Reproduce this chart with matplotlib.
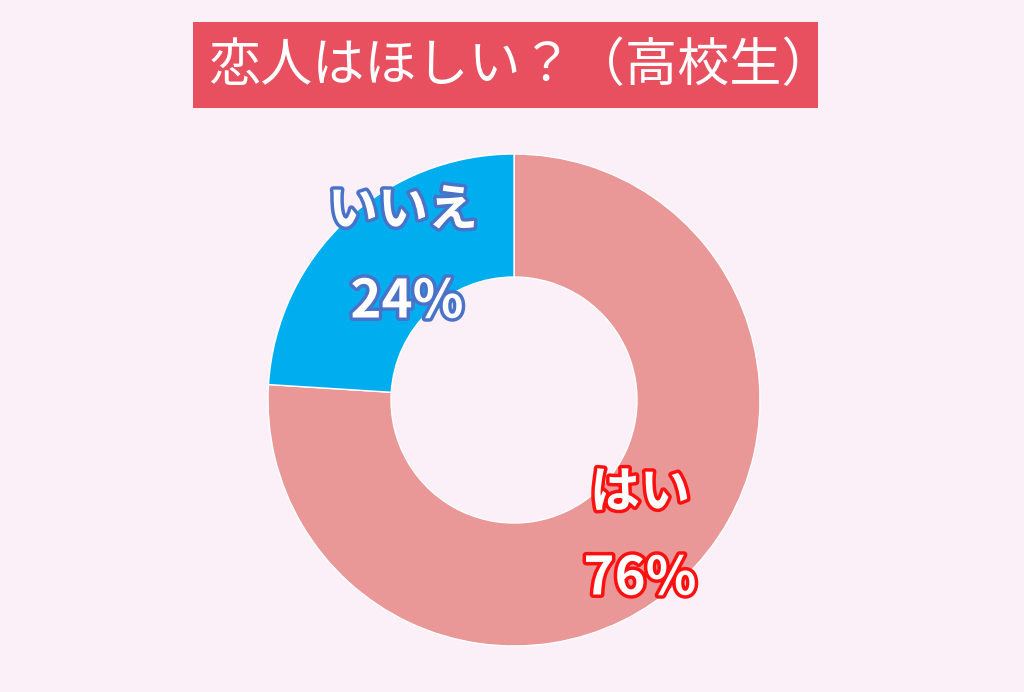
import matplotlib.pyplot as plt
import matplotlib.patheffects as pe
from matplotlib.patches import Rectangle

plt.rcParams['font.family'] = ['Noto Sans CJK JP', 'DejaVu Sans']

title = "恋人はほしい？（高校生）"
labels = ["はい", "いいえ"]
values = [76, 24]
colors = ["#EA9797", "#00AEEF"]
outline = ["#FF1010", "#4A72C8"]

W, H = 1024, 692
fig = plt.figure(figsize=(W / 100, H / 100), dpi=100)
fig.patch.set_facecolor("#FBF0F8")

# title banner
fig.patches.append(Rectangle((193 / W, 1 - 108 / H), 625 / W, 86 / H,
                             transform=fig.transFigure, facecolor="#E8505F",
                             edgecolor="none"))
fig.text(521 / W, 1 - 66 / H, title, color="white", fontsize=37.5,
         ha="center", va="center")

# donut, center (514, 400) radius 246 px
cx, cy, r = 514, 400, 246
ax = fig.add_axes([(cx - r) / W, (H - cy - r) / H, 2 * r / W, 2 * r / H])
ax.pie(values, colors=colors, startangle=90, counterclock=False, radius=1,
       wedgeprops=dict(width=0.5, edgecolor="white", linewidth=1))
ax.set_xlim(-1, 1)
ax.set_ylim(-1, 1)
ax.axis("off")

def px(x, y):
    return (x - cx) / r, (cy - y) / r

label_pos = [(640, 493), (403, 211)]
pct_pos = [(640, 579), (407, 302)]
for i in range(len(values)):
    stroke = [pe.withStroke(linewidth=5, foreground=outline[i])]
    ax.text(*px(*label_pos[i]), labels[i], color="white", fontsize=36,
            fontweight="bold", ha="center", va="center", path_effects=stroke)
    ax.text(*px(*pct_pos[i]), f"{values[i]}%", color="white", fontsize=38,
            fontweight="bold", ha="center", va="center", path_effects=stroke)

plt.savefig("out.png", dpi=100, facecolor=fig.get_facecolor())
